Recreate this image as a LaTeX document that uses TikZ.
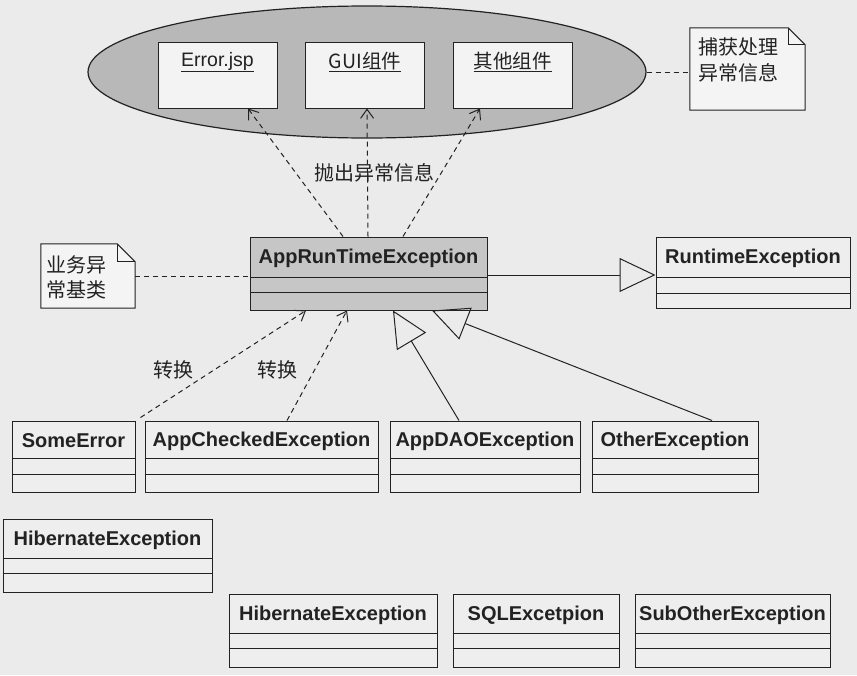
\documentclass[tikz,border=0pt]{standalone}
\usepackage{fontspec}
\setmainfont{Liberation Sans}
\newfontfamily\cjk{Noto Sans CJK SC}
\usetikzlibrary{arrows.meta,shapes.geometric,calc}
\definecolor{bgc}{HTML}{EBEBEB}
\definecolor{ellc}{HTML}{B8B8B8}
\definecolor{artc}{HTML}{C6C6C6}
\definecolor{boxc}{HTML}{EEEEEE}
\definecolor{innerc}{HTML}{F3F3F3}
\definecolor{notec}{HTML}{F4F4F4}
\definecolor{inkc}{HTML}{222222}
\tikzset{
  clsbox/.style={draw=inkc, line width=1pt, inner sep=0pt, rectangle},
  clsline/.style={draw=inkc, line width=1pt},
  clstext/.style={font=\bfseries\fontsize{20}{24}\selectfont, text=inkc, inner sep=0pt},
  innerbox/.style={draw=inkc, line width=1pt, fill=innerc, inner sep=0pt, minimum width=119pt, minimum height=66pt},
  innertext/.style={font=\fontsize{19.5}{23}\selectfont, text=inkc, inner sep=0pt},
  cjktext/.style={font=\cjk\fontsize{20}{25}\selectfont, text=inkc, inner sep=0pt},
  noteshape/.style={draw=inkc, line width=1pt, fill=notec},
  dep/.style={draw=inkc, line width=1pt, dash pattern=on 5pt off 4pt, -{Straight Barb[length=9pt,width=13pt]}},
  gen/.style={draw=inkc, line width=1pt, -{Triangle[open,length=36pt,width=34pt]}},
  link/.style={draw=inkc, line width=1pt, dash pattern=on 5pt off 4pt},
}
% name, x1, y1, x2, y2, line a, line b, text, fill
\newcommand{\umlcls}[9]{%
  \node[clsbox, fill=#9, minimum width={(#4-#2)*1pt}, minimum height={(#5-#3)*1pt}] (#1) at ({(#2+#4)/2},{(#3+#5)/2}) {};
  \draw[clsline] (#1.west |- 0,#6) -- (#1.east |- 0,#6);
  \draw[clsline] (#1.west |- 0,#7) -- (#1.east |- 0,#7);
  \node[clstext] (#1-t) at ({(#2+#4)/2},{(#3+#6)/2+1.5}) {#8};
}
\begin{document}
\begin{tikzpicture}[x=1pt,y=-1pt]
\useasboundingbox (0,0) rectangle (857,675);
\fill[bgc] (0,0) rectangle (857,675);

% ellipse with components
\node[ellipse, draw=inkc, line width=1.2pt, fill=ellc, minimum width=558pt, minimum height=132pt, inner sep=0pt] (ell) at (367,72) {};
\node[innerbox] (err) at (217.5,75) {};
\node[innerbox] (gui) at (365,75) {};
\node[innerbox] (oth) at (512.5,75) {};
\node[innertext] (err-t) at (217.5,62) {\underline{Error.jsp}};
\node[innertext] (gui-t) at (365,62) {\cjk\underline{GUI组件}};
\node[innertext] (oth-t) at (512.5,62) {\cjk\underline{其他组件}};

% note top right
\node[inner sep=0pt, minimum width=115pt, minimum height=82pt] (n1) at (747.5,69) {};
\draw[noteshape] (n1.north west) -- ([xshift=-17pt]n1.north east) -- ([yshift=-17pt]n1.north east) -- (n1.south east) -- (n1.south west) -- cycle;
\draw[clsline] ([xshift=-17pt]n1.north east) |- ([yshift=-17pt]n1.north east);
\node[cjktext, anchor=west, align=left, font=\cjk\fontsize{20}{26}\selectfont] (n1-t) at (698,60) {捕获处理\\异常信息};
\draw[link] (ell.east) -- (n1.west |- ell.east);

% AppRunTimeException and RuntimeException
\umlcls{art}{250}{237}{487}{310}{277}{292}{AppRunTimeException}{artc}
\umlcls{rte}{656}{237}{850}{308}{277}{293}{RuntimeException}{boxc}

% note left
\node[inner sep=0pt, minimum width=94pt, minimum height=64pt] (n2) at (88,276) {};
\draw[noteshape] (n2.north west) -- ([xshift=-18pt]n2.north east) -- ([yshift=-18pt]n2.north east) -- (n2.south east) -- (n2.south west) -- cycle;
\draw[clsline] ([xshift=-18pt]n2.north east) |- ([yshift=-18pt]n2.north east);
\node[cjktext, anchor=west, align=left] (n2-t) at (46,277.5) {业务异\\常基类};
\draw[link] (n2.east |- 0,276) -- (art.west |- 0,276);

% throw arrows
\draw[dep] ([xshift=-25.5pt]art.north) -- ([xshift=30.5pt]err.south);
\draw[dep] ([xshift=-0.5pt]art.north) -- ([xshift=2pt]gui.south);
\draw[dep] ([xshift=34.5pt]art.north) -- ([xshift=-32.5pt]oth.south);
\node[cjktext] (lbl-throw) at (374,173) {抛出异常信息};

% generalization to RuntimeException
\draw[gen] (art.east |- 0,275) -- (rte.west |- 0,275);

% second row
\umlcls{some}{12}{421}{135}{492}{458}{474}{SomeError}{boxc}
\umlcls{ace}{145}{421}{378}{492}{458}{474}{AppCheckedException}{boxc}
\umlcls{dao}{390}{421}{580}{492}{458}{474}{AppDAOException}{boxc}
\umlcls{othx}{592}{421}{758}{492}{458}{474}{OtherException}{boxc}

\draw[dep] ([xshift=5pt,yshift=3pt]some.north east) -- ([xshift=-62.5pt]art.south);
\draw[dep] ([xshift=25.5pt]ace.north) -- ([xshift=-21.5pt]art.south);
\node[cjktext] (lbl-c1) at (173,370) {转换};
\node[cjktext] (lbl-c2) at (277,370) {转换};
\draw[gen] ([xshift=-26pt]dao.north) -- ([xshift=24.5pt]art.south);
\draw[gen] ([xshift=37pt]othx.north) -- ([xshift=63.5pt]art.south);

% lower boxes
\umlcls{hib1}{3}{519}{212}{592}{558}{573}{HibernateException}{boxc}
\umlcls{hib2}{229}{594}{437}{667}{633}{648}{HibernateException}{boxc}
\umlcls{sql}{453}{594}{619}{667}{633}{648}{SQLExcetpion}{boxc}
\umlcls{sub}{635}{594}{830}{667}{633}{648}{SubOtherException}{boxc}
\end{tikzpicture}
\end{document}
